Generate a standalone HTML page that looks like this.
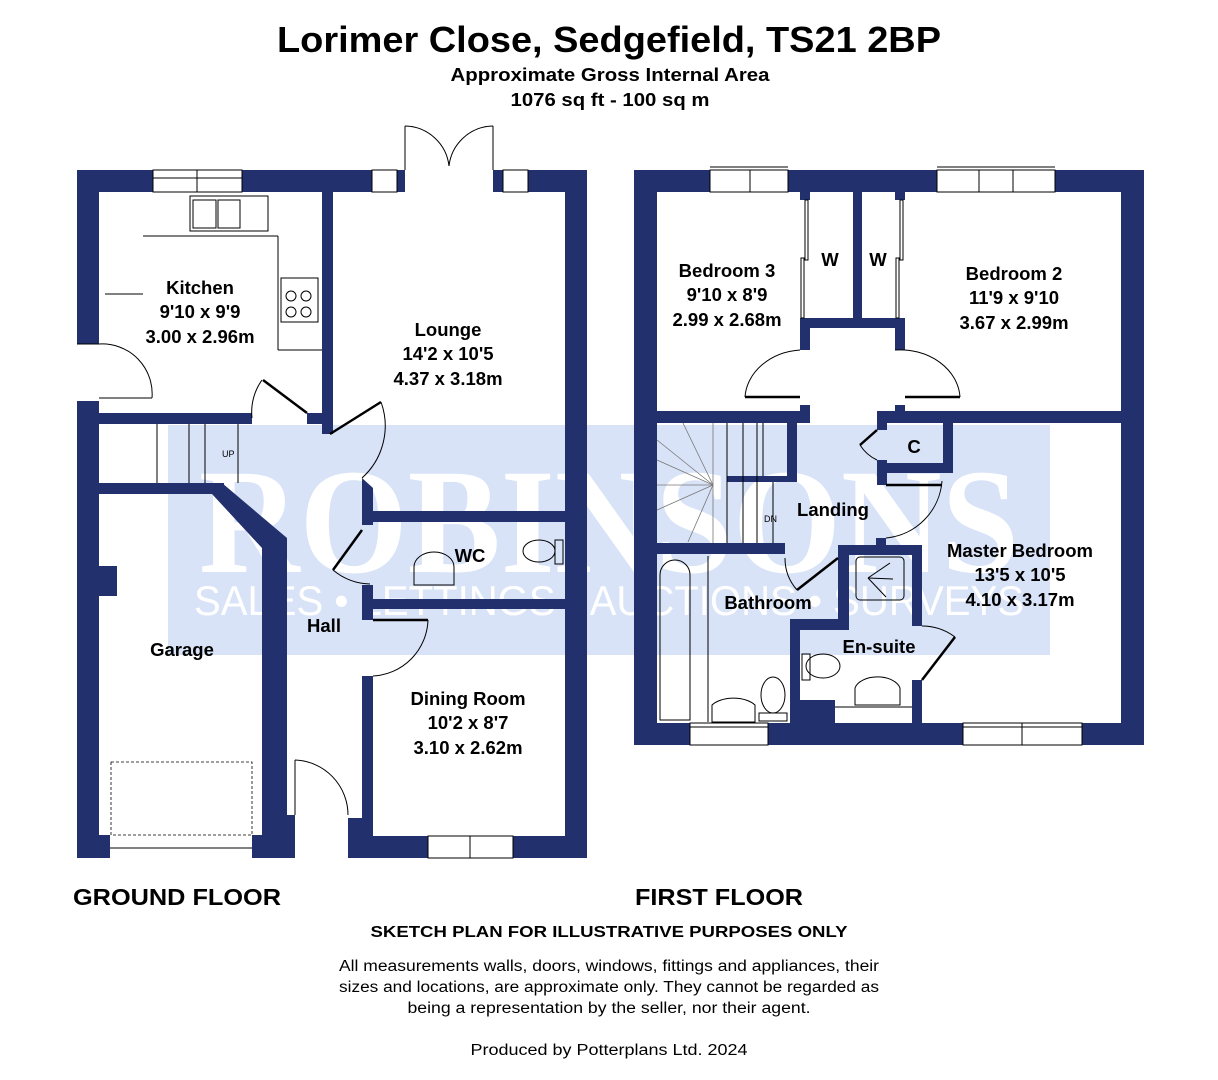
<!DOCTYPE html>
<html><head><meta charset="utf-8"><style>
html,body{margin:0;padding:0;background:#fff;}
svg{display:block;}
text{font-family:"Liberation Sans",sans-serif;}
.b{font-weight:bold;}
.r{font-size:18.5px;font-weight:bold;text-anchor:middle;fill:#000;}
.w{fill:#22306e;}
.t{stroke:#000;stroke-width:1;fill:none;}
.g{stroke:#777;stroke-width:0.8;fill:none;}
.d{stroke:#000;stroke-width:0.8;fill:none;stroke-dasharray:3 2;}
</style></head><body>
<svg width="1218" height="1080" viewBox="0 0 1218 1080" xmlns="http://www.w3.org/2000/svg">
<rect x="168" y="425" width="882" height="230" fill="#d8e3f7"/>
<text x="609" y="572" font-size="150" font-weight="bold" fill="#fff" text-anchor="middle" textLength="820" lengthAdjust="spacingAndGlyphs" style="font-family:'Liberation Serif',serif">ROBINSONS</text>
<text x="609" y="615" font-size="42" fill="#fff" text-anchor="middle" textLength="830" lengthAdjust="spacingAndGlyphs">SALES • LETTINGS • AUCTIONS • SURVEYS</text>

<text x="609" y="52" class="b" font-size="36" text-anchor="middle" textLength="664" lengthAdjust="spacingAndGlyphs">Lorimer Close, Sedgefield, TS21 2BP</text>
<text x="610" y="81" class="b" font-size="18" text-anchor="middle" textLength="319" lengthAdjust="spacingAndGlyphs">Approximate Gross Internal Area</text>
<text x="610" y="106" class="b" font-size="18" text-anchor="middle" textLength="199" lengthAdjust="spacingAndGlyphs">1076 sq ft - 100 sq m</text>

<g class="w">
<rect x="77" y="170" width="76" height="22"/>
<rect x="242" y="170" width="130" height="22"/>
<rect x="397" y="170" width="8" height="22"/>
<rect x="493" y="170" width="10" height="22"/>
<rect x="528" y="170" width="59" height="22"/>
<rect x="77" y="170" width="22" height="174"/>
<rect x="77" y="401" width="22" height="457"/>
<rect x="565" y="170" width="22" height="688"/>
<rect x="322" y="192" width="11" height="242"/>
<rect x="99" y="413" width="153" height="11"/>
<rect x="307" y="413" width="26" height="11"/>
<rect x="99" y="483" width="125" height="11"/>
<polygon points="222,483 287,538 287,858 262,858 262,548 212,494"/>
<rect x="99" y="566" width="18" height="30"/>
<rect x="77" y="835" width="33" height="23"/>
<rect x="252" y="835" width="35" height="23"/>
<rect x="287" y="815" width="8" height="43"/>
<rect x="348" y="818" width="22" height="40"/>
<rect x="370" y="836" width="58" height="22"/>
<rect x="513" y="836" width="74" height="22"/>
<rect x="362" y="676" width="11" height="160"/>
<rect x="362" y="585" width="11" height="35"/>
<rect x="362" y="599" width="203" height="10"/>
<rect x="362" y="511" width="203" height="11"/>
<polygon points="362,478 373,488 373,525 362,525"/>
</g>
<g class="t">
<rect x="153" y="170" width="89" height="22"/><line x1="153" y1="178" x2="242" y2="178"/><line x1="197" y1="170" x2="197" y2="192"/>
<rect x="372" y="170" width="25" height="22"/>
<rect x="503" y="170" width="25" height="22"/>
<rect x="428" y="836" width="85" height="22"/><line x1="470" y1="836" x2="470" y2="858"/>
<line x1="110" y1="848" x2="252" y2="848"/>
<line x1="405" y1="170" x2="405" y2="126"/><line x1="493" y1="170" x2="493" y2="126"/>
<path d="M405,126 A45,45 0 0 1 449,166"/><path d="M493,126 A45,45 0 0 0 449,166"/>
<line x1="77" y1="344" x2="99" y2="344"/>
<path d="M99,344 A50,50 0 0 1 152,398"/><line x1="99" y1="398" x2="152" y2="398"/>
<line x1="143" y1="236" x2="278" y2="236"/><line x1="278" y1="236" x2="278" y2="350"/><line x1="278" y1="350" x2="322" y2="350"/>
<line x1="105" y1="294" x2="143" y2="294"/>
<rect x="190" y="196" width="78" height="35"/><rect x="193" y="200" width="23" height="28"/><rect x="218" y="200" width="22" height="28"/>
<rect x="281" y="278" width="37" height="44"/>
<circle cx="291" cy="296" r="5"/><circle cx="306" cy="296" r="5"/><circle cx="291" cy="312" r="5"/><circle cx="306" cy="312" r="5"/>
<path d="M252,418 A55,55 0 0 1 262,380"/>
<line x1="157" y1="424" x2="157" y2="483"/><line x1="189" y1="424" x2="189" y2="483"/><line x1="205" y1="424" x2="205" y2="483"/><line x1="238" y1="424" x2="238" y2="483"/>
<path d="M381,402 A70,70 0 0 1 362,478"/>
<path d="M333,570 A60,60 0 0 0 370,584"/>
<path d="M428,620 A58,58 0 0 1 373,676"/>
<line x1="295" y1="760" x2="295" y2="815"/>
<path d="M295,760 A55,55 0 0 1 348,815"/>
<ellipse cx="539" cy="551" rx="16" ry="11"/><rect x="555" y="540" width="8" height="24"/>
<path d="M414,585 L414,567 A20,15 0 0 1 454,567 L454,585 Z"/>
</g>
<rect x="111" y="762" width="141" height="73" class="d"/>
<g stroke="#000" stroke-width="2.5">
<line x1="263" y1="380" x2="307" y2="413"/>
<line x1="330" y1="434" x2="381" y2="402"/>
<line x1="333" y1="570" x2="362" y2="530"/>
<line x1="373" y1="620" x2="428" y2="620"/>
</g>

<g class="w">
<rect x="634" y="170" width="76" height="22"/>
<rect x="788" y="170" width="149" height="22"/>
<rect x="1055" y="170" width="89" height="22"/>
<rect x="634" y="170" width="23" height="575"/>
<rect x="1121" y="170" width="23" height="575"/>
<rect x="634" y="723" width="56" height="22"/>
<rect x="768" y="723" width="195" height="22"/>
<rect x="1082" y="723" width="62" height="22"/>
<rect x="853" y="192" width="9" height="135"/>
<rect x="800" y="192" width="10" height="8"/><rect x="895" y="192" width="10" height="8"/>
<rect x="800" y="318" width="105" height="10"/>
<rect x="800" y="318" width="10" height="32"/><rect x="895" y="318" width="10" height="32"/>
<rect x="657" y="411" width="153" height="12"/>
<rect x="800" y="405" width="10" height="18"/><rect x="895" y="405" width="10" height="18"/>
<rect x="877" y="411" width="244" height="12"/>
<rect x="877" y="411" width="10" height="19"/>
<rect x="877" y="460" width="10" height="25"/>
<rect x="943" y="411" width="10" height="62"/>
<rect x="877" y="463" width="76" height="10"/>
<rect x="787" y="423" width="10" height="57"/>
<rect x="727" y="476" width="70" height="6"/>
<rect x="657" y="543" width="128" height="11"/>
<rect x="838" y="545" width="82" height="10"/>
<rect x="876" y="538" width="10" height="8"/>
<rect x="838" y="545" width="11" height="80"/>
<rect x="790" y="619" width="59" height="11"/>
<rect x="790" y="619" width="10" height="104"/>
<rect x="800" y="700" width="35" height="23"/>
<rect x="912" y="545" width="10" height="81"/>
<rect x="912" y="680" width="10" height="43"/>
</g>
<g class="t">
<rect x="710" y="170" width="78" height="22"/><line x1="750" y1="170" x2="750" y2="192"/><line x1="710" y1="167" x2="788" y2="167"/>
<rect x="937" y="170" width="118" height="22"/><line x1="979" y1="170" x2="979" y2="192"/><line x1="1013" y1="170" x2="1013" y2="192"/><line x1="937" y1="167" x2="1055" y2="167"/>
<rect x="690" y="723" width="78" height="22"/><line x1="690" y1="727" x2="768" y2="727"/>
<rect x="963" y="723" width="119" height="22"/><line x1="1022" y1="723" x2="1022" y2="745"/><line x1="963" y1="727" x2="1082" y2="727"/>
<rect x="805" y="200" width="3" height="60"/><rect x="801" y="258" width="3" height="60"/>
<rect x="900" y="200" width="3" height="60"/><rect x="896" y="258" width="3" height="60"/>
<path d="M745,397 A60,50 0 0 1 800,350"/><path d="M895,350 A60,50 0 0 1 960,397"/>
<line x1="727" y1="423" x2="727" y2="543"/><line x1="743" y1="423" x2="743" y2="543"/><line x1="757" y1="423" x2="757" y2="543"/><line x1="773" y1="482" x2="773" y2="543"/><line x1="763" y1="423" x2="763" y2="476"/>
<path d="M860,445 A40,40 0 0 0 877,460"/>
<path d="M942,481 A62,62 0 0 1 886,538"/>
<path d="M785,558 A48,48 0 0 0 797,590"/>
<path d="M922,626 A55,55 0 0 1 955,637"/>
<path d="M660,720 L660,575 A15,15 0 0 1 690,575 L690,720 Z"/>
<line x1="708" y1="556" x2="708" y2="722"/>
<path d="M712,722 L712,705 A25,14 0 0 1 755,705 L755,722 Z"/>
<ellipse cx="773" cy="695" rx="12" ry="18"/><rect x="759" y="713" width="28" height="8"/>
<rect x="856" y="557" width="48" height="43" rx="4"/>
<line x1="868" y1="578" x2="890" y2="563"/><line x1="868" y1="578" x2="893" y2="579"/><line x1="868" y1="578" x2="886" y2="597"/>
<ellipse cx="823" cy="666" rx="17" ry="12"/><rect x="802" y="654" width="8" height="26"/>
<path d="M855,705 L855,688 A23,14 0 0 1 900,688 L900,705 Z"/>
<line x1="835" y1="707" x2="912" y2="707"/>
</g>
<g stroke="#777" stroke-width="0.8">
<line x1="657" y1="440" x2="713" y2="485"/><line x1="657" y1="460" x2="713" y2="485"/><line x1="657" y1="510" x2="713" y2="485"/><line x1="688" y1="542" x2="713" y2="485"/><line x1="683" y1="423" x2="713" y2="485"/><line x1="657" y1="485" x2="713" y2="485"/><line x1="713" y1="423" x2="713" y2="543"/>
</g>
<g stroke="#000" stroke-width="2.5">
<line x1="745" y1="397" x2="800" y2="397"/><line x1="905" y1="397" x2="960" y2="397"/>
<line x1="860" y1="445" x2="877" y2="430"/>
<line x1="886" y1="485" x2="942" y2="485"/>
<line x1="797" y1="590" x2="838" y2="558"/>
<line x1="922" y1="680" x2="955" y2="637"/>
</g>

<g fill="#000">
<text x="222" y="457" font-size="9">UP</text>
<text x="764" y="522" font-size="9">DN</text>
</g>

<text class="r" x="200" y="294">Kitchen</text>
<text class="r" x="200" y="318">9'10 x 9'9</text>
<text class="r" x="200" y="343">3.00 x 2.96m</text>
<text class="r" x="448" y="336">Lounge</text>
<text class="r" x="448" y="360">14'2 x 10'5</text>
<text class="r" x="448" y="385">4.37 x 3.18m</text>
<text class="r" x="470" y="562">WC</text>
<text class="r" x="324" y="632">Hall</text>
<text class="r" x="182" y="656">Garage</text>
<text class="r" x="468" y="705">Dining Room</text>
<text class="r" x="468" y="729">10'2 x 8'7</text>
<text class="r" x="468" y="754">3.10 x 2.62m</text>
<text class="r" x="727" y="277">Bedroom 3</text>
<text class="r" x="727" y="301">9'10 x 8'9</text>
<text class="r" x="727" y="326">2.99 x 2.68m</text>
<text class="r" x="830" y="266">W</text>
<text class="r" x="878" y="266">W</text>
<text class="r" x="1014" y="280">Bedroom 2</text>
<text class="r" x="1014" y="304">11'9 x 9'10</text>
<text class="r" x="1014" y="329">3.67 x 2.99m</text>
<text class="r" x="914" y="453">C</text>
<text class="r" x="833" y="516">Landing</text>
<text class="r" x="1020" y="557">Master Bedroom</text>
<text class="r" x="1020" y="581">13'5 x 10'5</text>
<text class="r" x="1020" y="606">4.10 x 3.17m</text>
<text class="r" x="768" y="609">Bathroom</text>
<text class="r" x="879" y="653">En-suite</text>

<text x="73" y="905" class="b" font-size="23" textLength="208" lengthAdjust="spacingAndGlyphs">GROUND FLOOR</text>
<text x="635" y="905" class="b" font-size="23" textLength="168" lengthAdjust="spacingAndGlyphs">FIRST FLOOR</text>
<text x="609" y="937" class="b" font-size="16" text-anchor="middle" textLength="477" lengthAdjust="spacingAndGlyphs">SKETCH PLAN FOR ILLUSTRATIVE PURPOSES ONLY</text>
<g font-size="15.5" text-anchor="middle">
<text x="609" y="971" textLength="540" lengthAdjust="spacingAndGlyphs">All measurements walls, doors, windows, fittings and appliances, their</text>
<text x="609" y="992" textLength="540" lengthAdjust="spacingAndGlyphs">sizes and locations, are approximate only. They cannot be regarded as</text>
<text x="609" y="1013" textLength="403" lengthAdjust="spacingAndGlyphs">being a representation by the seller, nor their agent.</text>
<text x="609" y="1055" textLength="277" lengthAdjust="spacingAndGlyphs">Produced by Potterplans Ltd. 2024</text>
</g>
</svg>
</body></html>
